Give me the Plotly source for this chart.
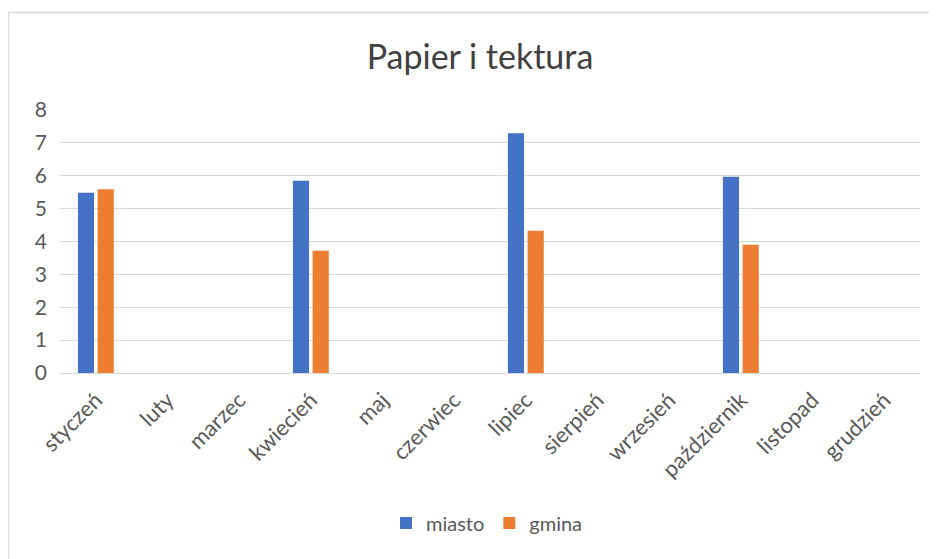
import plotly.graph_objects as go

months = ["styczeń", "luty", "marzec", "kwiecień", "maj", "czerwiec", "lipiec",
          "sierpień", "wrzesień", "październik", "listopad", "grudzień"]
miasto = [5.48, None, None, 5.85, None, None, 7.29, None, None, 5.97, None, None]
gmina = [5.59, None, None, 3.72, None, None, 4.33, None, None, 3.90, None, None]
y_ticks = [0, 1, 2, 3, 4, 5, 6, 7, 8]

FONT = "Lato"
OFF = 8  # page body margin
W, H = 937 - OFF, 559 - OFF
# plot area in page pixels: x 60..920, y 110..373
L, R, T, B = 60 - OFF, 937 - 920, 110 - OFF, 559 - 373
pw, ph = W - L - R, H - T - B

def px_to_paper_x(px):
    return (px - OFF - L) / pw

def px_to_paper_y(py):
    return (H - B - (py - OFF)) / ph

fig = go.Figure()
fig.add_trace(go.Bar(name="miasto", x=months, y=miasto, marker_color="#4472C4",
                     marker_line_width=0))
fig.add_trace(go.Bar(name="gmina", x=months, y=gmina, marker_color="#ED7D31",
                     marker_line_width=0))

fig.update_layout(
    width=W, height=H,
    margin=dict(l=L, r=R, t=T, b=B, autoexpand=False),
    paper_bgcolor="white", plot_bgcolor="white",
    barmode="group", bargap=0.45, bargroupgap=0.18,
    title=dict(text="Papier i tektura", x=px_to_paper_x(480), xanchor="center",
               xref="paper",
               y=1 - (57 - OFF) / H, yanchor="middle",
               font=dict(family=FONT, size=34, color="#404040")),
    font=dict(family=FONT, color="#595959"),
    xaxis=dict(tickangle=-45, tickfont=dict(size=22, color="#595959"),
               showgrid=False, showline=False, ticks="", automargin=False,
               ticklabelstandoff=9),
    yaxis=dict(range=[0, 8], tickvals=y_ticks, showgrid=True,
               gridcolor="#d9d9d9", gridwidth=1.3, zeroline=True,
               zerolinecolor="#d9d9d9", zerolinewidth=1.3,
               tickfont=dict(size=21, color="#595959"), ticks="",
               ticklabelstandoff=12, automargin=False),
    legend=dict(orientation="h", x=px_to_paper_x(487), xanchor="center",
                y=px_to_paper_y(523), yanchor="middle",
                font=dict(size=20, color="#595959"),
                itemwidth=30, tracegroupgap=0, traceorder="normal"),
    shapes=[dict(type="rect", xref="paper", yref="paper",
                 x0=px_to_paper_x(8.5), y0=px_to_paper_y(600),
                 x1=px_to_paper_x(1000), y1=px_to_paper_y(12.5),
                 line=dict(color="#d9d9d9", width=1.3), layer="below")],
)

fig.write_html("out.html")
